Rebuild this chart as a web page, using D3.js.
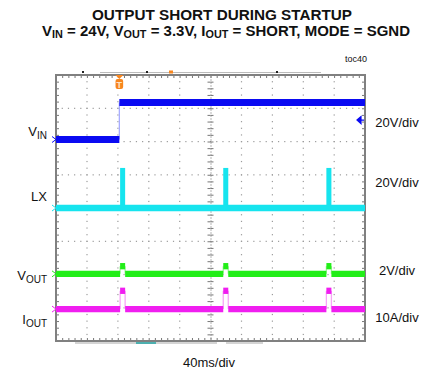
<!DOCTYPE html>
<html>
<head>
<meta charset="utf-8">
<script src="https://cdn.jsdelivr.net/npm/d3@7"></script>
<style>
  body { margin: 0; background: #fff; }
  text { font-family: "Liberation Sans", Arial, sans-serif; fill: #111; }
</style>
</head>
<body>
<div id="scope"></div>
<script>
// channel settings
var channelNames = ["VIN", "LX", "VOUT", "IOUT"];
var channelScales = ["20V/div", "20V/div", "2V/div", "10A/div"];
var unitsPerDiv = [20, 20, 2, 10];
var groundDiv = [2.06, 0, -1.98, -3.04];   // trace zero, divisions from center
var channelColors = ["#0a0af2", "#16e4ee", "#22ee18", "#f01ef0"];
var edgeColors = ["#a9adff", "#8cf2f6", "#a6f6a0", "#f7a6f7"];

// VIN steps up once, the other traces burst every hiccup cycle
var vinStepMs = 82;
var vinLevels = [0, 22.2];
var pulseStartMs = [83, 216.5, 350];
var pulseWidthMs = 6.5;
var pulseLevels = [null, 24.1, 0.46, 5.5];

var timeMajor = d3.range(0, 401, 40);          // 40ms/div
var timeMinor = d3.range(0, 400.01, 8);
var divMajor = d3.range(-4, 4.01, 1);
var divMinor = d3.range(-4, 4.01, 0.2);

var margin = {top: 75, right: 61, bottom: 31, left: 56},
    width = 426 - margin.left - margin.right,
    height = 372 - margin.top - margin.bottom;

var root = d3.select("#scope")
  .append("svg")
    .attr("width", 426)
    .attr("height", 372);

var svg = root.append("g")
    .attr("transform", "translate(" + margin.left + "," + margin.top + ")");

var x = d3.scaleLinear().domain([0, 400]).range([0, width]);
var y = d3.scaleLinear().domain([-4, 4]).range([height, 0]);

function chY(i, v) { return y(groundDiv[i] + v / unitsPerDiv[i]); }

// dotted graticule
var gridDots = [];
timeMajor.forEach(function(t) {
  if (t == 0 || t == 400 || t == 200) return;
  divMinor.forEach(function(d) { gridDots.push([x(t), y(d)]); });
});
divMajor.forEach(function(d) {
  if (d == -4 || d == 4 || d == 0) return;
  timeMinor.forEach(function(t) { gridDots.push([x(t), y(d)]); });
});
svg.append("g").selectAll("rect")
  .data(gridDots)
  .enter().append("rect")
    .attr("x", function(d) { return d[0] - 0.5; })
    .attr("y", function(d) { return d[1] - 0.5; })
    .attr("width", 1.2)
    .attr("height", 1.2)
    .attr("fill", "#9c9c9c");

// center axes with ticks both sides
function noLabels(axis) { return axis.tickFormat("").tickSizeOuter(0); }
[d3.axisTop, d3.axisBottom].forEach(function(a) {
  svg.append("g")
    .attr("class", "center")
    .attr("transform", "translate(0," + y(0) + ")")
    .call(noLabels(a(x).tickValues(timeMinor).tickSize(3)));
});
[d3.axisLeft, d3.axisRight].forEach(function(a) {
  svg.append("g")
    .attr("class", "center")
    .attr("transform", "translate(" + x(200) + ",0)")
    .call(noLabels(a(y).tickValues(divMinor).tickSize(3)));
});
svg.selectAll(".center .domain").attr("stroke", "#aaa").attr("stroke-dasharray", "1,2");
svg.selectAll(".center line").attr("stroke", "#777");

// frame ticks pointing inward
svg.append("g").attr("class", "frame")
  .call(noLabels(d3.axisTop(x).tickValues(timeMinor).tickSize(-3)));
svg.append("g").attr("class", "frame")
  .attr("transform", "translate(0," + height + ")")
  .call(noLabels(d3.axisBottom(x).tickValues(timeMinor).tickSize(-3)));
svg.append("g").attr("class", "frame")
  .call(noLabels(d3.axisLeft(y).tickValues(divMinor).tickSize(-3)));
svg.append("g").attr("class", "frame")
  .attr("transform", "translate(" + width + ",0)")
  .call(noLabels(d3.axisRight(y).tickValues(divMinor).tickSize(-3)));
svg.selectAll(".frame .domain").attr("stroke", "none");
svg.selectAll(".frame line").attr("stroke", "#777");

svg.append("rect")
  .attr("width", width)
  .attr("height", height)
  .attr("fill", "none")
  .attr("stroke", "#808080")
  .attr("stroke-width", 2);

// build the traces: flat parts are thick, the jumps thin
function traceParts(i) {
  var flats = [], edges = [];
  if (i == 0) {
    flats.push({t0: 0, t1: vinStepMs, v: vinLevels[0]});
    flats.push({t0: vinStepMs, t1: 400, v: vinLevels[1]});
    edges.push({t: vinStepMs, v0: vinLevels[0], v1: vinLevels[1]});
    return {flats: flats, edges: edges};
  }
  if (i == 1) {
    flats.push({t0: 0, t1: 400, v: 0});
    return {flats: flats, edges: edges};
  }
  var last = 0;
  pulseStartMs.forEach(function(s) {
    var e = s + pulseWidthMs;
    flats.push({t0: last, t1: s, v: 0});
    flats.push({t0: s, t1: e, v: pulseLevels[i]});
    edges.push({t: s, v0: 0, v1: pulseLevels[i]});
    edges.push({t: e, v0: 0, v1: pulseLevels[i]});
    last = e;
  });
  flats.push({t0: last, t1: 400, v: 0});
  return {flats: flats, edges: edges};
}

channelNames.forEach(function(name, i) {
  var parts = traceParts(i);
  var g = svg.append("g").attr("class", "trace-" + name);

  g.selectAll(".edge")
    .data(parts.edges)
    .enter().append("line")
      .attr("class", "edge")
      .attr("x1", function(d) { return x(d.t); })
      .attr("x2", function(d) { return x(d.t); })
      .attr("y1", function(d) { return chY(i, d.v0); })
      .attr("y2", function(d) { return chY(i, d.v1); })
      .attr("stroke", edgeColors[i])
      .attr("stroke-width", 1.3);

  if (i == 1) {
    // LX switching fills the burst
    g.selectAll(".burst")
      .data(pulseStartMs)
      .enter().append("rect")
        .attr("class", "burst")
        .attr("x", function(d) { return x(d); })
        .attr("width", function(d) { return x(d + pulseWidthMs) - x(d); })
        .attr("y", chY(i, pulseLevels[i]))
        .attr("height", chY(i, 0) - chY(i, pulseLevels[i]))
        .attr("fill", channelColors[i]);
  }

  g.selectAll(".flat")
    .data(parts.flats)
    .enter().append("line")
      .attr("class", "flat")
      .attr("x1", function(d) { return x(d.t0); })
      .attr("x2", function(d) { return x(d.t1); })
      .attr("y1", function(d) { return chY(i, d.v); })
      .attr("y2", function(d) { return chY(i, d.v); })
      .attr("stroke", channelColors[i])
      .attr("stroke-width", i == 0 ? 7 : 6.3);

  // ground marker on the left edge
  var gy = chY(i, 0);
  g.append("path")
    .attr("d", "M-4," + (gy - 3) + "L0," + gy + "L-4," + (gy + 3))
    .attr("fill", "none")
    .attr("stroke", channelColors[i])
    .attr("stroke-width", 1);
});

// trigger level arrow on the right
var trigY = chY(0, 11.7);
svg.append("path")
  .attr("d", "M" + (width - 8) + "," + trigY + "l4,-3.5v7z M" + (width - 5) + "," + trigY + "h4")
  .attr("fill", channelColors[0])
  .attr("stroke", channelColors[0])
  .attr("stroke-width", 1.2);

// trigger position marker
var tx = x(vinStepMs);
svg.append("path")
  .attr("d", "M" + (tx - 4) + ",0h8l-4,4z")
  .attr("fill", "#f7861e");
svg.append("rect")
  .attr("x", tx - 3.8)
  .attr("y", 4)
  .attr("width", 7.6)
  .attr("height", 10)
  .attr("rx", 2)
  .attr("fill", "#f7861e");
svg.append("text")
  .attr("x", tx)
  .attr("y", 12.5)
  .attr("text-anchor", "middle")
  .style("font-size", "9px")
  .style("font-weight", "bold")
  .style("fill", "#fde3c8")
  .text("T");

// memory bar above, zoom bar below
svg.append("line")
  .attr("x1", 44).attr("x2", 265)
  .attr("y1", -2.5).attr("y2", -2.5)
  .attr("stroke", "#bbb").attr("stroke-width", 1);
svg.append("rect").attr("x", 113).attr("y", -4.5).attr("width", 4).attr("height", 3).attr("fill", "#f7861e");
[26, 90, 220].forEach(function(px) {
  svg.append("rect").attr("x", px).attr("y", -4).attr("width", 2).attr("height", 2).attr("fill", "#222");
});
svg.append("line")
  .attr("x1", 19).attr("x2", 161)
  .attr("y1", height + 2).attr("y2", height + 2)
  .attr("stroke", "#aaa").attr("stroke-width", 1);
svg.append("line")
  .attr("x1", 170).attr("x2", 207)
  .attr("y1", height + 2).attr("y2", height + 2)
  .attr("stroke", "#aaa").attr("stroke-width", 1);
svg.append("line")
  .attr("x1", 80).attr("x2", 100)
  .attr("y1", height + 2).attr("y2", height + 2)
  .attr("stroke", "#2aa6a6").attr("stroke-width", 1.6);

// channel names on the left
var leftLabels = [
  {main: "V", sub: "IN", y: 136},
  {main: "LX", sub: "", y: 201},
  {main: "V", sub: "OUT", y: 280},
  {main: "I", sub: "OUT", y: 324}
];
leftLabels.forEach(function(d) {
  var t = root.append("text")
    .attr("x", 47)
    .attr("y", d.y)
    .attr("text-anchor", "end")
    .style("font-size", "13px");
  t.append("tspan").text(d.main);
  if (d.sub) t.append("tspan").attr("dy", 2.5).style("font-size", "10px").text(d.sub);
});

// scale labels on the right
var rightY = [127, 187, 275, 322];
channelScales.forEach(function(s, i) {
  root.append("text")
    .attr("x", 397)
    .attr("y", rightY[i])
    .attr("text-anchor", "middle")
    .style("font-size", "13px")
    .text(s);
});

root.append("text")
  .attr("x", 209)
  .attr("y", 366.5)
  .attr("text-anchor", "middle")
  .style("font-size", "13px")
  .text("40ms/div");

// title
root.append("text")
  .attr("x", 222)
  .attr("y", 19.5)
  .attr("text-anchor", "middle")
  .attr("textLength", 260)
  .attr("lengthAdjust", "spacingAndGlyphs")
  .style("font-size", "14.5px")
  .style("font-weight", "bold")
  .text("OUTPUT SHORT DURING STARTUP");

var sub = root.append("text")
  .attr("x", 226)
  .attr("y", 35.5)
  .attr("text-anchor", "middle")
  .attr("textLength", 368)
  .attr("lengthAdjust", "spacingAndGlyphs")
  .style("font-size", "14.5px")
  .style("font-weight", "bold");
[["V", "IN", " = 24V, "], ["V", "OUT", " = 3.3V, "], ["I", "OUT", " = SHORT, MODE = SGND"]].forEach(function(p) {
  sub.append("tspan").text(p[0]);
  sub.append("tspan").attr("dy", 2).style("font-size", "10.5px").text(p[1]);
  sub.append("tspan").attr("dy", -2).text(p[2]);
});

root.append("text")
  .attr("x", 356)
  .attr("y", 61.5)
  .attr("text-anchor", "middle")
  .style("font-size", "9px")
  .text("toc40");
</script>
</body>
</html>
